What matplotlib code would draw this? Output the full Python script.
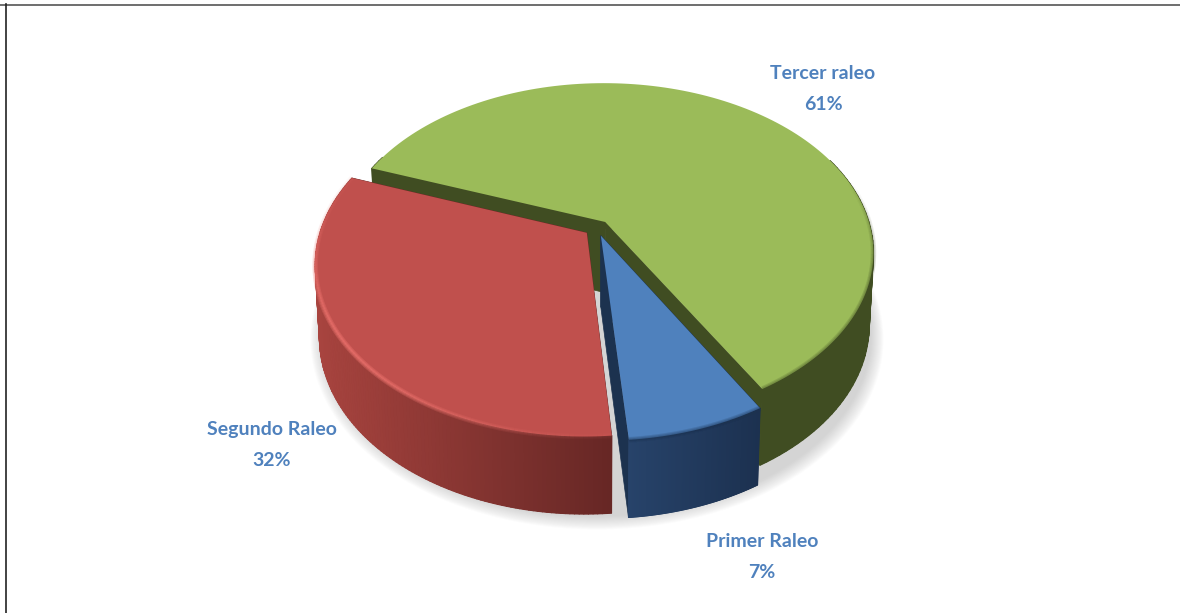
import matplotlib
matplotlib.use('Agg')
import matplotlib.pyplot as plt
from matplotlib.collections import LineCollection, PolyCollection
from matplotlib.colors import to_rgb
import numpy as np

plt.rcParams['font.family'] = ['Lato', 'DejaVu Sans']

labels = ['Primer Raleo', 'Segundo Raleo', 'Tercer raleo']
shares = [7, 32, 61]

# styling per slice, same order as labels
top_colors = ['#4F81BD', '#C0504D', '#9BBB59']
wall_colors = ['#1C324F', '#6A2826', '#404D22']
side_left = ['#27436A', '#A8443F', '#404D22']
side_right = ['#1C3150', '#672725', '#404D22']
label_xy = [(762, 557), (272, 445), (823, 89)]
draw_order = [2, 1, 0]

W, H = 1180, 613
CX, CY = 597, 228
RX, RY = 265.5, 165.5
PERSP = 0.178
DEPTH = 71
EXPLODE = 0.048
START = 30.0   # degrees from the front, going clockwise seen from above


def project(u, v):
    s = 1 / (1 - PERSP * v)
    return CX + RX * u * s, CY + RY * v * s


def drop(x, y, v):
    # the lower face of the disc, slightly smaller and further down at the front
    return CX + 0.985 * (x - CX), y + DEPTH * (1 + 0.09 * v)


def slice_points(a0, a1, n=140):
    mid = np.radians((a0 + a1) / 2)
    ox, oy = EXPLODE * np.sin(mid), EXPLODE * np.cos(mid)
    t = np.radians(np.linspace(a0, a1, n))
    return ox + np.sin(t), oy + np.cos(t), ox, oy


def blend(c0, c1, t):
    c0, c1 = np.array(to_rgb(c0)), np.array(to_rgb(c1))
    return c0 + (c1 - c0) * t


fig = plt.figure(figsize=(W / 100, H / 100), dpi=100)
ax = fig.add_axes([0, 0, 1, 1])
ax.set_xlim(0, W)
ax.set_ylim(H, 0)
ax.axis('off')

# frame lines of the original picture
ax.plot([0, W], [4.5, 4.5], color='#555555', lw=1.2)
ax.plot([5.5, 5.5], [4, H], color='#222222', lw=1.2)

# soft shadow under the disc
tt = np.radians(np.linspace(0, 360, 300))
for i in np.linspace(1, 0, 14):
    r = 1.03 + 0.045 * i
    x, y = project(r * np.sin(tt), r * np.cos(tt))
    x, y = drop(x, y, np.cos(tt))
    ax.fill(x, y + 2 + 2 * i, color='#a0a0a0', alpha=0.035, lw=0, zorder=1)

# slice angles come from the shares
sweeps = np.array(shares) / sum(shares) * 360
ends = START - np.cumsum(sweeps)
starts = ends + sweeps

z = 2
for i in draw_order:
    u, v, ox, oy = slice_points(starts[i], ends[i])
    x, y = project(u, v)
    bx, by = drop(x, y, v)
    ax0, ay0 = project(ox, oy)
    bx0, by0 = drop(ax0, ay0, oy)

    # the two radial walls
    for e in (0, -1):
        ax.fill([ax0, x[e], bx[e], bx0], [ay0, y[e], by[e], by0], color=wall_colors[i], lw=0.5, zorder=z)

    # outer side: one solid piece, then thin quads on it for the gradient
    keep = v >= -0.45
    mid_col = blend(side_left[i], side_right[i], 0.5)
    ax.fill(np.r_[x[keep], bx[keep][::-1]], np.r_[y[keep], by[keep][::-1]], color=mid_col, lw=0, zorder=z + 1)
    quads, cols = [], []
    xmin, xmax = bx.min(), bx.max()
    for j in range(len(x) - 1):
        if v[j] < -0.45:
            continue
        quads.append([(x[j], y[j]), (x[j + 1], y[j + 1]), (bx[j + 1], by[j + 1]), (bx[j], by[j])])
        cols.append(blend(side_left[i], side_right[i], (bx[j] - xmin) / (xmax - xmin)))
    ax.add_collection(PolyCollection(quads, facecolors=cols, edgecolors=cols, linewidths=0.8, zorder=z + 1))

    # top face
    ax.fill(np.r_[ax0, x], np.r_[ay0, y], color=top_colors[i], lw=0, zorder=z + 2)

    # bevel along the rim: light on the red slice, dark on the others
    pts = np.column_stack([x, y])
    segs = np.stack([pts[:-1], pts[1:]], axis=1)
    t = np.linspace(0, 1, len(segs))
    if i == 1:
        alpha = (0.12 + 0.88 * np.sin(np.pi * t) ** 2) * 0.36
        rgb = to_rgb('#F07570')
    else:
        alpha = 0.18 * np.clip((v[:-1] + 0.3) / 0.5, 0, 1)
        rgb = to_rgb(wall_colors[i])
    rim = np.column_stack([np.tile(rgb, (len(segs), 1)), alpha])
    for lw in [4, 2.5, 1.2]:
        ax.add_collection(LineCollection(segs, colors=rim, linewidths=lw, zorder=z + 3))
    z += 5

for name, share, (lx, ly) in zip(labels, shares, label_xy):
    ax.text(lx, ly, f'{name}\n{share}%', color='#4F81BD', fontsize=14, fontweight='bold',
            ha='center', va='center', linespacing=1.97, zorder=50)

fig.savefig('out.png', dpi=100, facecolor='white')
